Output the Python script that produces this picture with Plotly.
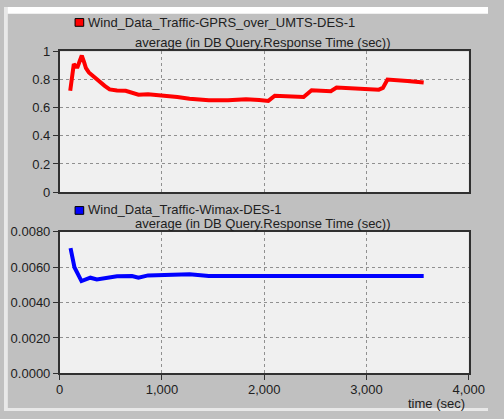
import plotly.graph_objects as go

W, H = 504, 419

# Data
gprs_time = [103, 138, 160, 175, 195, 216, 240, 257, 285, 330, 394, 440, 488, 560, 645, 700, 770, 864, 1005, 1150, 1270, 1380, 1458, 1646, 1822, 1950, 2040, 2103, 2250, 2385, 2463, 2560, 2651, 2707, 2900, 3120, 3160, 3205, 3400, 3559]
gprs_resp = [0.72, 0.91, 0.89, 0.89, 0.93, 0.97, 0.92, 0.88, 0.85, 0.82, 0.78, 0.755, 0.73, 0.722, 0.72, 0.71, 0.692, 0.695, 0.687, 0.675, 0.664, 0.658, 0.653, 0.653, 0.66, 0.655, 0.648, 0.685, 0.68, 0.676, 0.724, 0.72, 0.717, 0.743, 0.738, 0.728, 0.74, 0.80, 0.79, 0.778]

wimax_time = [106, 144, 213, 250, 300, 363, 420, 488, 560, 707, 770, 864, 1083, 1270, 1458, 1822, 2200, 2600, 3000, 3300, 3559]
wimax_resp = [0.00707, 0.00599, 0.00521, 0.00528, 0.0054, 0.0053, 0.00536, 0.0054, 0.00548, 0.0055, 0.0054, 0.00553, 0.00559, 0.00559, 0.0055, 0.0055, 0.00552, 0.0055, 0.00549, 0.0055, 0.0055]

x_ticks = [0, 1000, 2000, 3000, 4000]
top_y_ticks = [0, 0.2, 0.4, 0.6, 0.8, 1.0]
bot_y_ticks = [0, 0.002, 0.004, 0.006, 0.008]

legend_top = "Wind_Data_Traffic-GPRS_over_UMTS-DES-1"
legend_bot = "Wind_Data_Traffic-Wimax-DES-1"
subtitle = "average (in DB Query.Response Time (sec))"

FONT = "Liberation Sans, Arial, sans-serif"
FS = 13
BG = "#c0c0c0"
PLOT_BG = "#f0f0f0"

def px_x(p):
    return p / W

def px_y(p):
    return 1 - p / H

fig = go.Figure()
fig.add_trace(go.Scatter(x=gprs_time, y=gprs_resp, mode="lines",
                         line=dict(color="#ff0000", width=4),
                         xaxis="x", yaxis="y", showlegend=False))
fig.add_trace(go.Scatter(x=wimax_time, y=wimax_resp, mode="lines",
                         line=dict(color="#0000ff", width=4),
                         xaxis="x2", yaxis="y2", showlegend=False))

axis_common = dict(showline=True, mirror=True, linecolor="#303030", linewidth=1.5,
                   showgrid=True, gridcolor="#909090", griddash="dot", gridwidth=1,
                   zeroline=False, ticklen=5, tickcolor="#303030",
                   tickfont=dict(family=FONT, size=FS, color="#202020"))

xdom = [px_x(58), px_x(484)]
fig.update_layout(
    width=W, height=H,
    margin=dict(l=0, r=0, t=0, b=0),
    paper_bgcolor=BG, plot_bgcolor=PLOT_BG,
    xaxis=dict(domain=xdom, range=[0, 4000], tickvals=x_ticks, showticklabels=False,
               anchor="y", ticks="", **axis_common),
    yaxis=dict(domain=[px_y(192), px_y(46)], range=[0, 1], tickvals=top_y_ticks,
               anchor="x", ticks="outside", **axis_common),
    xaxis2=dict(domain=xdom, range=[0, 4000], tickvals=x_ticks, tickformat=",d",
                anchor="y2", ticks="outside", ticklabelstandoff=-2, **axis_common),
    yaxis2=dict(domain=[px_y(380), px_y(233)], range=[0, 0.008], tickvals=bot_y_ticks,
                tickformat=".4f", anchor="x2", ticks="outside", **axis_common),
)

shapes = [
    # light borders of the screenshot
    dict(type="rect", xref="paper", yref="paper", x0=0, x1=1, y0=px_y(7), y1=1,
         fillcolor="white", line=dict(width=0), layer="below"),
    dict(type="rect", xref="paper", yref="paper", x0=0, x1=px_x(4), y0=0, y1=1,
         fillcolor="#e8e8e8", line=dict(width=0), layer="below"),
    dict(type="rect", xref="paper", yref="paper", x0=0, x1=1, y0=0, y1=px_y(416),
         fillcolor="#e8e8e8", line=dict(width=0), layer="below"),
    # legend squares
    dict(type="rect", xref="paper", yref="paper", x0=px_x(74), x1=px_x(83),
         y0=px_y(20), y1=px_y(12), fillcolor="#ff0000", line=dict(color="black", width=1)),
    dict(type="rect", xref="paper", yref="paper", x0=px_x(74), x1=px_x(83),
         y0=px_y(215), y1=px_y(207), fillcolor="#0000ff", line=dict(color="black", width=1)),
]
fig.update_layout(shapes=shapes)

ann_font = dict(family=FONT, size=FS, color="#202020")
annotations = [
    dict(text=legend_top, x=px_x(85), y=px_y(16), xref="paper", yref="paper",
         xanchor="left", yanchor="middle", showarrow=False, font=ann_font),
    dict(text=subtitle, x=px_x(270), y=px_y(37), xref="paper", yref="paper",
         xanchor="center", yanchor="middle", showarrow=False, font=ann_font),
    dict(text=legend_bot, x=px_x(85), y=px_y(210.5), xref="paper", yref="paper",
         xanchor="left", yanchor="middle", showarrow=False, font=ann_font),
    dict(text=subtitle, x=px_x(270), y=px_y(225), xref="paper", yref="paper",
         xanchor="center", yanchor="middle", showarrow=False, font=ann_font),
    dict(text="time (sec)", x=px_x(482), y=px_y(411), xref="paper", yref="paper",
         xanchor="right", yanchor="middle", showarrow=False, font=ann_font),
]
fig.update_layout(annotations=annotations)

fig.write_html("out.html", config={"displayModeBar": False},
               post_script="document.body.style.margin='0';document.body.style.overflow='hidden';")
